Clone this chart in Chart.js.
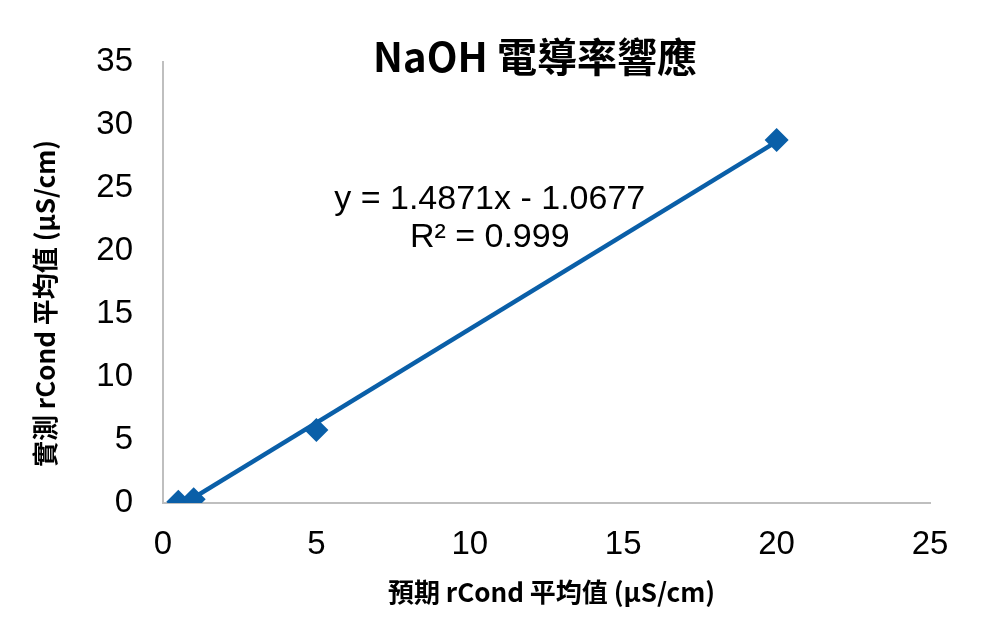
<!DOCTYPE html>
<html>
<head>
<meta charset="utf-8">
<script src="https://cdn.jsdelivr.net/npm/chart.js@4"></script>
<style>
  html, body { margin: 0; padding: 0; background: #ffffff; }
  #wrap { width: 1000px; height: 627px; position: relative; }
</style>
</head>
<body>
<div id="wrap"><canvas id="c" width="1000" height="627"></canvas></div>
<script>
// ---- data ----
const expected = [0.5, 1, 5, 20];          // 預期 rCond 平均值
const measured = [0.1, 0.3, 5.8, 28.8];    // 實測 rCond 平均值
const slope = 1.4871;
const intercept = -1.0677;
const rSquared = 0.999;
const xTicks = [0, 5, 10, 15, 20, 25];
const yTicks = [0, 5, 10, 15, 20, 25, 30, 35];

const chartTitle = 'NaOH 電導率響應';
const xTitle = '預期 rCond 平均值 (μS/cm)';
const yTitle = '實測 rCond 平均值 (μS/cm)';
const eqText = 'y = ' + slope.toFixed(4) + 'x - ' + Math.abs(intercept).toFixed(4);
const r2Text = 'R² = ' + rSquared.toFixed(3);

const blue = '#0a5fa8';
const cjk = '"Noto Sans CJK TC", "Noto Sans", sans-serif';
const latin = '"Liberation Sans", Arial, sans-serif';

const points = expected.map((x, i) => ({ x: x, y: measured[i] }));
const xMin = Math.min(...expected), xMax = Math.max(...expected);
const trend = [xMin, xMax].map(x => ({ x: x, y: slope * x + intercept }));

const textPlugin = {
  id: 'texts',
  afterDraw(chart) {
    const ctx = chart.ctx;
    const ca = chart.chartArea;
    ctx.save();
    ctx.fillStyle = '#000000';
    ctx.textAlign = 'center';
    ctx.textBaseline = 'middle';
    // chart title
    ctx.font = 'bold 40px ' + cjk;
    ctx.fillText(chartTitle, 535, 57);
    // x axis title
    ctx.font = 'bold 26px ' + cjk;
    ctx.fillText(xTitle, (ca.left + ca.right) / 2 + 5, 592);
    // y axis title
    ctx.save();
    ctx.translate(45, (ca.top + ca.bottom) / 2 + 21);
    ctx.rotate(-Math.PI / 2);
    ctx.fillText(yTitle, 0, 0);
    ctx.restore();
    // equation
    ctx.font = '34px ' + latin;
    const xs = chart.scales.x;
    const ex = xs.getPixelForValue(10.65);
    ctx.fillText(eqText, ex, 200);
    ctx.fillText(r2Text, ex, 238);
    ctx.restore();
  }
};

new Chart(document.getElementById('c'), {
  type: 'scatter',
  data: {
    datasets: [
      {
        label: 'data',
        data: points,
        showLine: false,
        pointStyle: 'rectRot',
        pointRadius: 12,
        pointHoverRadius: 12,
        pointBackgroundColor: blue,
        pointBorderColor: blue,
        pointBorderWidth: 0,
        order: 0
      },
      {
        label: 'trend',
        data: trend,
        showLine: true,
        borderColor: blue,
        borderWidth: 4.5,
        pointRadius: 0,
        pointHoverRadius: 0,
        fill: false,
        order: 1
      }
    ]
  },
  options: {
    responsive: false,
    animation: false,
    events: [],
    layout: { padding: { left: 0, right: 70, top: 62, bottom: 0 } },
    plugins: {
      legend: { display: false },
      title: { display: false },
      tooltip: { enabled: false }
    },
    scales: {
      x: {
        type: 'linear',
        min: 0, max: 25,
        afterBuildTicks(scale) { scale.ticks = xTicks.map(v => ({ value: v })); },
        afterFit(scale) { scale.height = 124; },
        grid: { display: false, drawTicks: false },
        border: { display: true, color: '#bfbfbf', width: 2 },
        ticks: { color: '#000000', font: { family: latin, size: 33 }, padding: 22 }
      },
      y: {
        type: 'linear',
        min: 0, max: 35,
        afterBuildTicks(scale) { scale.ticks = yTicks.map(v => ({ value: v })); },
        afterFit(scale) { scale.width = 163; },
        grid: { display: false, drawTicks: false },
        border: { display: true, color: '#bfbfbf', width: 2 },
        ticks: { color: '#000000', font: { family: latin, size: 33 }, padding: 30 }
      }
    }
  },
  plugins: [textPlugin]
});
</script>
</body>
</html>
